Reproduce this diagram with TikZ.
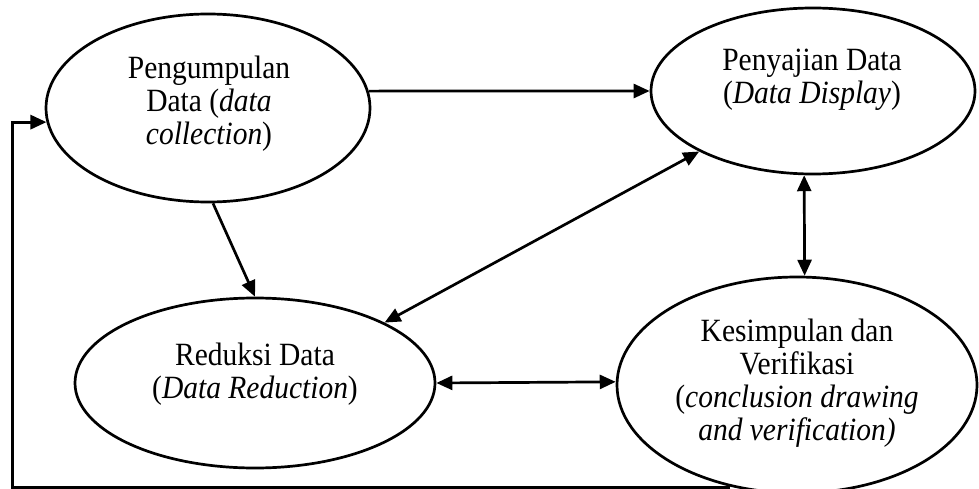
\documentclass[tikz,border=0pt]{standalone}
\usepackage{fontspec}
\setmainfont{Liberation Serif}
\usetikzlibrary{shapes.geometric,arrows.meta}

\begin{document}
\begin{tikzpicture}[x=1pt,y=-1pt,
    stage/.style={ellipse,draw,line width=2.7pt,inner sep=0pt},
    caption/.style={align=center,inner sep=0pt,yscale=1.1,transform shape,
      font=\fontsize{29.5pt}{30pt}\selectfont},
    flow/.style={line width=2.7pt,-{Triangle[length=16pt,width=14pt]}},
    twoway/.style={line width=2.7pt,{Triangle[length=16pt,width=14pt]}-{Triangle[length=16pt,width=14pt]}}]

  % page frame
  \clip (0,0) rectangle (979,489);

  % stages of the analysis cycle
  \node[stage,minimum width=324pt,minimum height=188pt] (collect) at (208,108) {};
  \node[stage,minimum width=324pt,minimum height=166pt] (display) at (813,91) {};
  \node[stage,minimum width=360pt,minimum height=170pt] (reduce) at (255,383) {};
  \node[stage,minimum width=360pt,minimum height=216pt] (conclude) at (797,385) {};

  % stage names
  \node[caption] (collect-t) at (209,104)
    {Pengumpulan\\Data (\textit{data}\\\textit{collection})};
  \node[caption] (display-t) at (812,80)
    {Penyajian Data\\(\textit{Data Display})};
  \node[caption] (reduce-t) at (255,374)
    {Reduksi Data\\(\textit{Data Reduction})};
  \node[caption] (conclude-t) at (797,383)
    {Kesimpulan dan\\Verifikasi\\(\textit{conclusion drawing}\\\textit{and verification)}};

  % connections between stages
  \draw[flow] (collect.6) -- (display.west);
  \draw[flow] (collect.-87) -- (reduce.north);
  \draw[twoway] (display.208.5) -- (reduce.25);
  \draw[twoway] (display.264.5) -- (conclude.86);
  \draw[twoway] (reduce.east) -- (conclude.179.6);

  % feedback loop back to data collection
  \coordinate (fbstart) at (730,487);
  \coordinate (fbcorner) at (12,487);
  \draw[flow,line width=3pt] (fbstart) -- (fbcorner) |- (collect.185);
\end{tikzpicture}
\end{document}
